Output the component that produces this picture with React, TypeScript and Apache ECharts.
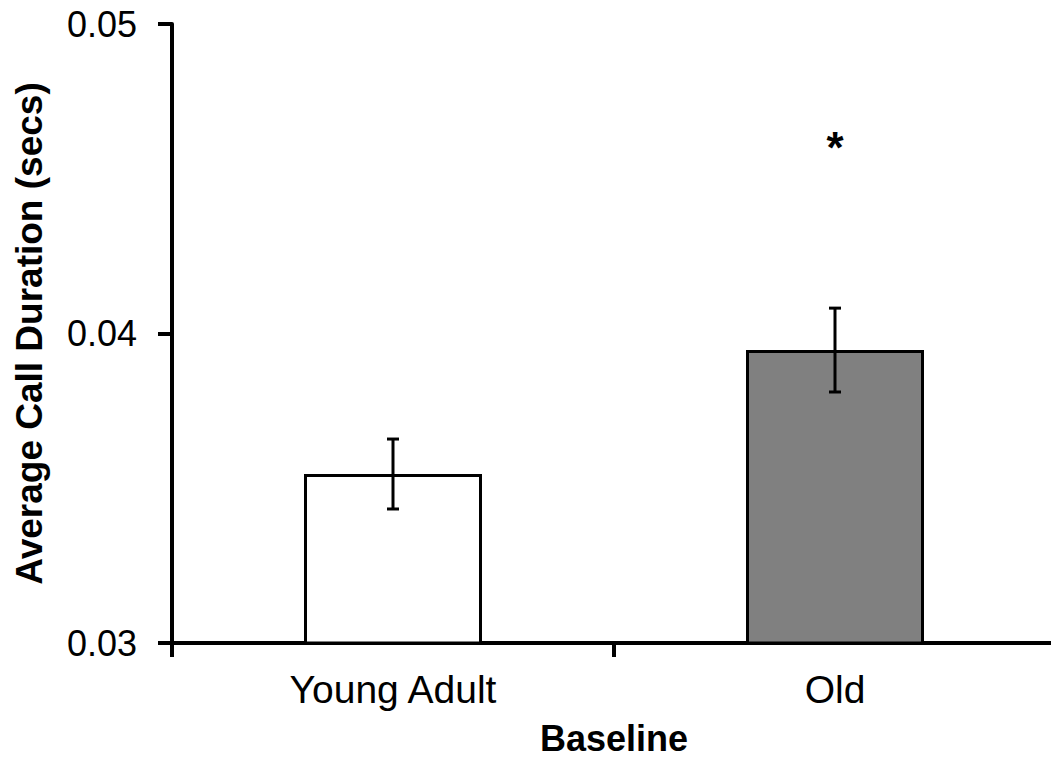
import React, { useEffect, useRef } from "react";
import * as echarts from "echarts";

const categories = ["Young Adult", "Old"];
const means = [0.03546, 0.03947];
const errUpper = [0.03659, 0.04082];
const errLower = [0.03433, 0.03811];
const barColors = ["#ffffff", "#808080"];
const significance = ["", "*"];
const significanceY = [0.0, 0.046];
const yTicks = [0.03, 0.04, 0.05];

const FONT = "Liberation Sans, Arial, Helvetica, sans-serif";

export default function App() {
  const ref = useRef<HTMLDivElement>(null);
  useEffect(() => {
    if (!ref.current) return;
    const chart = echarts.init(ref.current, null, { renderer: "svg" });
    const errData = categories.map((_, i) => [i, errLower[i], errUpper[i]]);
    const starData = categories.map((_, i) => [i, significanceY[i], significance[i]]);
    chart.setOption({
      animation: false,
      backgroundColor: "#ffffff",
      grid: {
        left: 172,
        right: -5,
        top: 24,
        bottom: 118,
        containLabel: false,
        outerBoundsMode: "none",
      },
      xAxis: {
        type: "category",
        data: categories,
        boundaryGap: true,
        name: "Baseline",
        nameLocation: "middle",
        nameGap: 77,
        nameTextStyle: { fontFamily: FONT, fontSize: 36, fontWeight: "bold", color: "#000" },
        axisLine: { lineStyle: { color: "#000", width: 4 } },
        axisTick: { show: true, length: 14, inside: false, lineStyle: { color: "#000", width: 4 } },
        axisLabel: { fontFamily: FONT, fontSize: 39, color: "#000", margin: 27 },
        splitLine: { show: false },
      },
      yAxis: {
        type: "value",
        min: yTicks[0],
        max: yTicks[yTicks.length - 1],
        interval: 0.01,
        name: "Average Call Duration (secs)",
        nameLocation: "middle",
        nameGap: 124,
        nameTextStyle: { fontFamily: FONT, fontSize: 37, fontWeight: "bold", color: "#000" },
        axisLine: { show: true, lineStyle: { color: "#000", width: 4 } },
        axisTick: { show: true, length: 14, inside: false, lineStyle: { color: "#000", width: 4 } },
        axisLabel: {
          fontFamily: FONT,
          fontSize: 36,
          color: "#000",
          margin: 35,
          formatter: (v: number) => v.toFixed(2),
        },
        splitLine: { show: false },
      },
      series: [
        {
          type: "bar",
          barWidth: 178,
          data: means.map((v, i) => ({
            value: v,
            itemStyle: { color: barColors[i], borderColor: "#000", borderWidth: 3 },
          })),
          z: 2,
        },
        {
          type: "custom",
          z: 5,
          data: errData,
          renderItem: (params: any, api: any) => {
            const x = api.coord([api.value(0), api.value(1)])[0];
            const yLo = api.coord([api.value(0), api.value(1)])[1];
            const yHi = api.coord([api.value(0), api.value(2)])[1];
            const hw = 6;
            const style = { stroke: "#000", lineWidth: 3 };
            return {
              type: "group",
              children: [
                { type: "line", shape: { x1: x, y1: yHi, x2: x, y2: yLo }, style },
                { type: "line", shape: { x1: x - hw, y1: yHi, x2: x + hw, y2: yHi }, style },
                { type: "line", shape: { x1: x - hw, y1: yLo, x2: x + hw, y2: yLo }, style },
              ],
            };
          },
        },
        {
          type: "custom",
          z: 6,
          data: starData,
          renderItem: (params: any, api: any) => {
            const idx = api.value(0);
            const txt = significance[idx];
            if (!txt) return null;
            const p = api.coord([idx, api.value(1)]);
            return {
              type: "text",
              x: p[0],
              y: p[1],
              style: {
                text: txt,
                fontFamily: FONT,
                fontSize: 44,
                fontWeight: "bold",
                fill: "#000",
                align: "center",
                verticalAlign: "middle",
              },
            };
          },
        },
      ],
    });
    return () => chart.dispose();
  }, []);
  return (
    <div
      ref={ref}
      style={{ position: "fixed", left: 0, top: 0, width: 1051, height: 761, background: "#fff" }}
    />
  );
}
